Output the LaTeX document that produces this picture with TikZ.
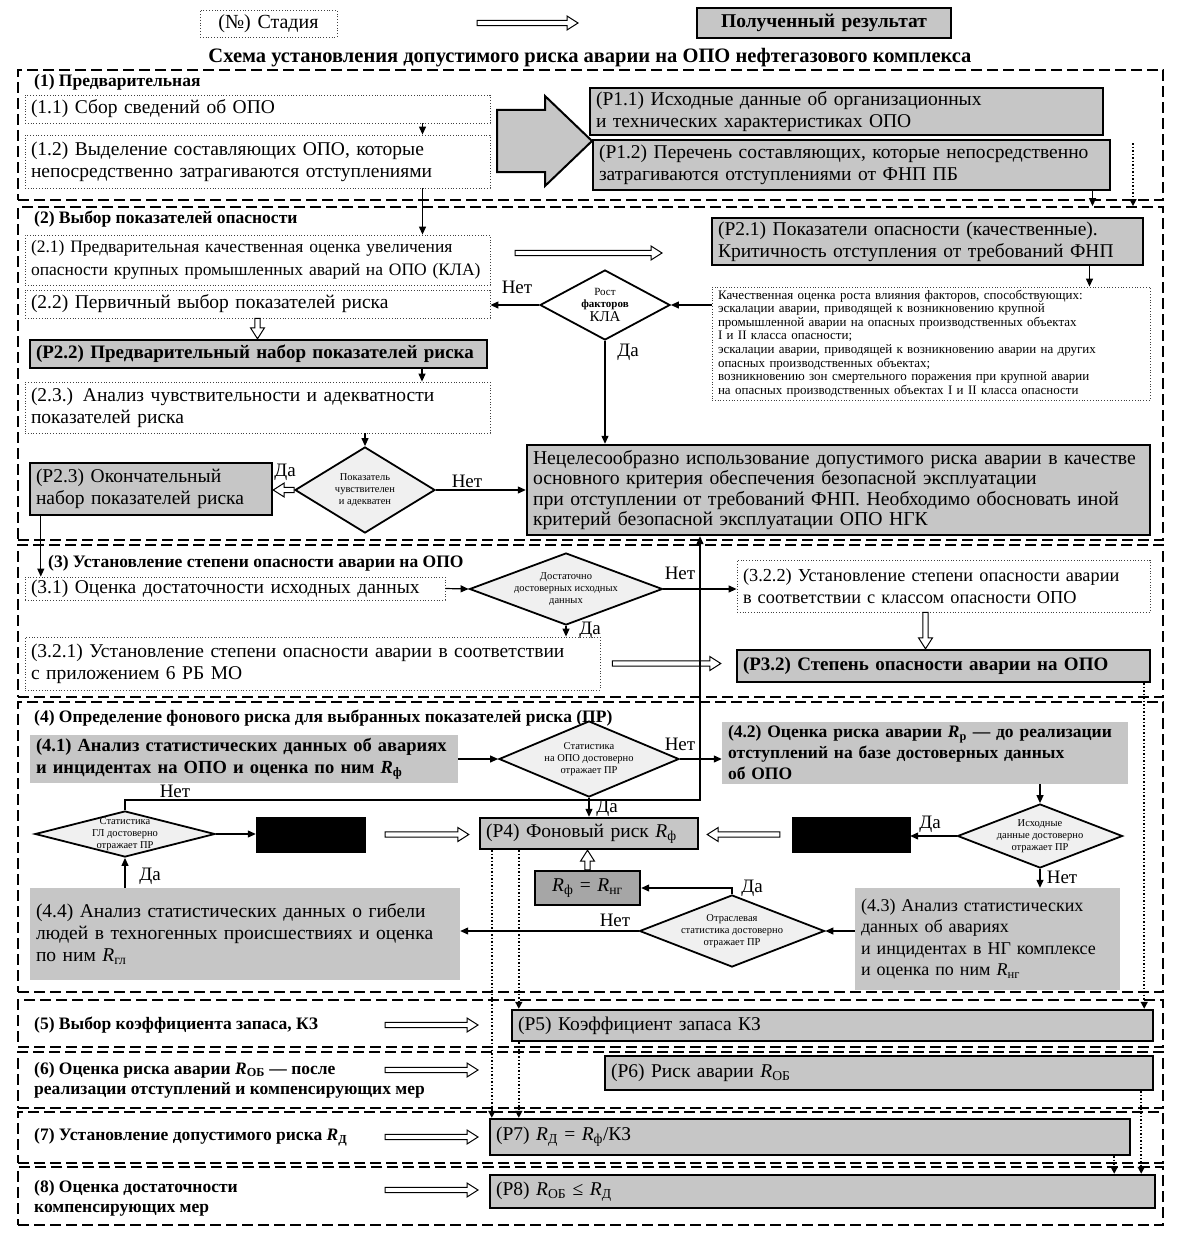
\documentclass[tikz,border=0pt]{standalone}
\usepackage{fontspec}
\setmainfont{Liberation Serif}
\usetikzlibrary{arrows.meta,shapes.geometric,calc}
\newcommand\fM{\fontsize{19.5}{22}\selectfont}
\newcommand\fS{\fontsize{17.5}{23}\selectfont}
\newcommand\fN{\fontsize{19.7}{20.5}\selectfont}
\newcommand\fH{\bfseries\fontsize{17.5}{20}\selectfont}
\newcommand\fT{\fontsize{13}{13.6}\selectfont}
\newcommand\fD{\fontsize{10.5}{12}\selectfont}
\newcommand\fL{\fontsize{19}{20}\selectfont}
\newcommand\fB{\bfseries\fontsize{17.5}{21}\selectfont}
\newcommand\fBB{\bfseries\fontsize{19}{21}\selectfont}
\newcommand\Rs[1]{\textit{R}\textsubscript{#1}}
\tikzset{
 stage/.style={draw, line width=1.8pt, dash pattern=on 11pt off 5pt},
 stepbox/.style={draw=black!75, line width=0.8pt, dotted, align=left, font=\fM},
 res/.style={draw, line width=2.4pt, fill=gray!45, align=left, font=\fM},
 gbox/.style={fill=gray!45, align=left, font=\fM},
 blk/.style={fill=black, draw=black},
 dia/.style={diamond, draw, line width=1.8pt, inner sep=0pt, fill=gray!12},
 dtxt/.style={font=\fD, align=center, inner sep=0pt},
 arr/.style={line width=1.2pt, -{Triangle[length=8pt,width=7pt]}},
 darr/.style={line width=1.5pt, dotted, -{Triangle[length=7pt,width=7pt]}},
 hol/.style={line width=1pt, fill=white, line join=miter},
 lab/.style={font=\fL, inner sep=0pt},
 sthead/.style={font=\fH, anchor=west, inner sep=0pt, align=left},
}
\newcommand\B[7]{%
 \pgfmathsetmacro\myBW{#5-#3}\pgfmathsetmacro\myBH{#6-#4}\pgfmathsetmacro\myTW{#5-#3-12}%
 \pgfmathsetmacro\myBX{(#3+#5)/2}\pgfmathsetmacro\myBY{(#4+#6)/2}%
 \node[#1, minimum width=\myBW pt, minimum height=\myBH pt, text width=\myTW pt, inner xsep=6pt, inner ysep=0pt] (#2) at (\myBX,\myBY) {#7};}
\newcommand\D[6]{\node[dia, minimum width=#4pt, minimum height=#5pt] (#1) at (#2,#3) {};
 \node[dtxt] (#1t) at (#1.center) {#6};}
\newcommand\holR[2]{\draw[hol] let \p1=(#1),\p2=(#2) in (\x1,\y1+2.6pt) -- (\x2-11pt,\y1+2.6pt) -- (\x2-11pt,\y1+7pt) -- (\x2,\y1) -- (\x2-11pt,\y1-7pt) -- (\x2-11pt,\y1-2.6pt) -- (\x1,\y1-2.6pt) -- cycle;}
\newcommand\holL[2]{\draw[hol] let \p1=(#1),\p2=(#2) in (\x1,\y1+2.6pt) -- (\x2+11pt,\y1+2.6pt) -- (\x2+11pt,\y1+7pt) -- (\x2,\y1) -- (\x2+11pt,\y1-7pt) -- (\x2+11pt,\y1-2.6pt) -- (\x1,\y1-2.6pt) -- cycle;}
\newcommand\holD[2]{\draw[hol] let \p1=(#1),\p2=(#2) in (\x1+2.6pt,\y1) -- (\x1+2.6pt,\y2+11pt) -- (\x1+7pt,\y2+11pt) -- (\x1,\y2) -- (\x1-7pt,\y2+11pt) -- (\x1-2.6pt,\y2+11pt) -- (\x1-2.6pt,\y1) -- cycle;}
\newcommand\holU[2]{\draw[hol] let \p1=(#1),\p2=(#2) in (\x1+2.6pt,\y1) -- (\x1+2.6pt,\y2-11pt) -- (\x1+7pt,\y2-11pt) -- (\x1,\y2) -- (\x1-7pt,\y2-11pt) -- (\x1-2.6pt,\y2-11pt) -- (\x1-2.6pt,\y1) -- cycle;}
\begin{document}
\begin{tikzpicture}[x=1pt,y=-1pt]
\fill[white] (0,0) rectangle (1183,1244);
\useasboundingbox (0,0) rectangle (1183,1244);
% stage frames
\B{stage}{st1}{18}{70}{1163}{200}{}
\B{stage}{st2}{18}{207}{1163}{540}{}
\B{stage}{st3}{18}{545}{1163}{697}{}
\B{stage}{st4}{18}{702}{1163}{992}{}
\B{stage}{st5}{18}{1000}{1163}{1047}{}
\B{stage}{st6}{18}{1052}{1163}{1108}{}
\B{stage}{st7}{18}{1112}{1163}{1163}{}
\B{stage}{st8}{18}{1167}{1163}{1225}{}
% legend
\B{stepbox, align=center, font=\fontsize{20}{22}\selectfont}{leg1}{200}{10}{337}{37}{(№) Стадия}
\coordinate (la1) at (477,23); \coordinate (la2) at (578,23);
\holR{la1}{la2}
\B{res, align=center, font=\fM\bfseries, line width=2pt}{leg2}{697}{8}{951}{38}{Полученный результат}
\node[font=\bfseries\fontsize{20.5}{22}\selectfont, inner sep=0pt] (title) at (590,58) {Схема установления допустимого риска аварии на ОПО нефтегазового комплекса};
% stage 1
\node[sthead] (h1) at (34,82) {(1) Предварительная};
\B{stepbox}{s11}{25}{95}{490}{123}{(1.1) Сбор сведений об ОПО}
\B{stepbox}{s12}{25}{135}{490}{188}{(1.2) Выделение составляющих ОПО, которые\\непосредственно затрагиваются отступлениями}
\coordinate (a11) at ($(s11.south)+(165,0)$);
\draw[arr] (a11) -- (a11 |- s12.north);
\draw[line width=2pt, fill=gray!45] (497,110) -- (545,110) -- (545,96) -- (592,141) -- (545,186) -- (545,172) -- (497,172) -- cycle;
\B{res}{p11}{590}{88}{1103}{135}{(Р1.1) Исходные данные об организационных\\и технических характеристиках ОПО}
\B{res}{p12}{593}{140}{1110}{190}{(Р1.2) Перечень составляющих, которые непосредственно\\затрагиваются отступлениями от ФНП ПБ}
\coordinate (a12) at ($(p12.south)+(241,0)$);
\draw[arr] (a12) -- (a12 |- st2.north);
\coordinate (c2a) at (1133,143);
\draw[darr] (c2a) -- (c2a |- st2.north);
\coordinate (a13) at ($(s12.south)+(165,0)$);
% stage 2
\node[sthead] (h2) at (34,219) {(2) Выбор показателей опасности};
\B{stepbox, font=\fS}{s21}{25}{235}{490}{285}{(2.1) Предварительная качественная оценка увеличения\\опасности крупных промышленных аварий на ОПО (КЛА)}
\draw[arr] (a13) -- (a13 |- s21.north);
\coordinate (b21) at (515,253); \coordinate (b22) at (662,253);
\holR{b21}{b22}
\B{res}{p21}{712}{218}{1143}{265}{(Р2.1) Показатели опасности (качественные).\\Критичность отступления от требований ФНП}
\B{stepbox, font=\fT}{sm}{712}{287}{1150}{400}{Качественная оценка роста влияния факторов, способствующих:\\эскалации аварии, приводящей к  возникновению крупной\\промышленной аварии на опасных производственных объектах\\I и II класса опасности;\\эскалации аварии, приводящей к возникновению аварии на других\\опасных производственных объектах;\\возникновению зон смертельного поражения при крупной аварии\\на опасных производственных объектах I и II класса опасности}
\coordinate (a21) at ($(p21.south)+(162,0)$);
\draw[arr] (a21) -- (a21 |- sm.north);
\node[dia, fill=white, minimum width=130pt, minimum height=70pt] (rost) at (605,305) {};
\node[dtxt] (rostt) at (rost.center) {{\fontsize{11}{13}\selectfont Рост}\\{\bfseries\fontsize{11}{13}\selectfont факторов}\\{\fontsize{15}{16}\selectfont КЛА}};
\draw[arr] (sm.west |- rost.east) -- (rost.east);
\B{stepbox}{s22}{25}{290}{490}{318}{(2.2) Первичный выбор показателей риска}
\draw[arr] (rost.west) -- (s22.east |- rost.west);
\node[lab] (n1) at (517,287) {Нет};
\B{res, font=\fBB}{p22}{30}{340}{487}{368}{(Р2.2) Предварительный набор показателей риска}
\holD{s22.south}{p22.north}
\coordinate (a22) at ($(p22.south)+(163.5,0)$);
\B{stepbox}{s23}{25}{382}{490}{433}{(2.3.) Анализ чувствительности и адекватности\\показателей риска}
\draw[arr] (a22) -- (a22 |- s23.north);
\D{pok}{365}{490}{140}{86}{Показатель\\чувствителен\\и адекватен}
\draw[arr] (s23.south -| pok.north) -- (pok.north);
\B{res}{p23}{30}{463}{272}{515}{(Р2.3) Окончательный\\набор показателей риска}
\holL{pok.west}{p23.east}
\node[lab] (y1) at (285,472) {Да};
\B{res, font=\fN}{nec}{527}{445}{1150}{535}{Нецелесообразно использование допустимого риска аварии в качестве\\основного критерия обеспечения безопасной эксплуатации\\при отступлении от требований ФНП. Необходимо обосновать иной\\критерий безопасной эксплуатации ОПО НГК}
\draw[arr] (rost.south) -- (rost.south |- nec.north);
\node[lab] (y2) at (628,352) {Да};
\draw[arr] (pok.east) -- (nec.west |- pok.east);
\node[lab] (n2) at (467,481) {Нет};
% stage 3
\node[sthead] (h3) at (48,563) {(3) Установление степени опасности аварии на ОПО};
\B{stepbox}{s31}{25}{577}{445}{600}{(3.1) Оценка достаточности исходных данных}
\coordinate (a23) at ($(p23.south west)+(12,0)$);
\draw[arr] (a23) -- (a23 |- s31.north);
\D{dost}{566}{589}{193}{72}{Достаточно\\достоверных исходных\\данных}
\draw[arr] (s31.east) -- (dost.west);
\B{stepbox, font=\fontsize{18.3}{22}\selectfont}{s322}{737}{560}{1150}{612}{(3.2.2) Установление степени опасности аварии\\в соответствии с классом опасности ОПО}
\draw[arr] (dost.east) -- (s322.west |- dost.east);
\node[lab] (n3) at (680,573) {Нет};
\B{stepbox}{s321}{25}{637}{600}{690}{(3.2.1) Установление степени опасности аварии в соответствии\\с приложением 6 РБ МО}
\draw[arr] (dost.south) -- (dost.south |- s321.north);
\node[lab] (y3) at (590,630) {Да};
\B{res, font=\fBB}{p32}{737}{650}{1150}{682}{(Р3.2) Степень опасности аварии на ОПО}
\coordinate (b31) at ($(s321.east)+(12,0)$); \coordinate (b32) at ($(p32.west)+(-15,0)$);
\holR{b31}{b32}
\coordinate (b33) at ($(s322.south)+(-18,0)$);
\holD{b33}{b33 |- p32.north}
% stage 4
\node[sthead] (h4) at (34,718) {(4) Определение фонового риска для выбранных показателей риска (ПР)};
\B{gbox, font=\bfseries\fontsize{18.5}{22}\selectfont}{s41}{30}{735}{458}{783}{(4.1) Анализ статистических данных об авариях\\и инцидентах на ОПО и оценка по ним \Rs{ф}}
\D{opo}{589}{759}{180}{76}{Статистика\\на ОПО достоверно\\отражает ПР}
\draw[arr] (s41.east) -- (opo.west);
\B{gbox, font=\fB}{s42}{722}{722}{1128}{784}{(4.2) Оценка риска аварии \Rs{р} — до реализации\\отступлений на базе достоверных данных\\об ОПО}
\draw[arr] (opo.east) -- (s42.west |- opo.east);
\node[lab] (n4) at (680,744) {Нет};
\B{res}{p4}{480}{818}{698}{849}{(Р4) Фоновый риск \Rs{ф}}
\draw[arr] (opo.south) -- (opo.south |- p4.north);
\node[lab] (y4) at (607,808) {Да};
\D{ish}{1040}{836}{165}{64}{Исходные\\данные достоверно\\отражает ПР}
\draw[arr] (s42.south -| ish.north) -- (ish.north);
\B{blk}{blkR}{792}{817}{910}{852}{}
\draw[arr] (ish.west) -- (blkR.east |- ish.west);
\node[lab] (y5) at (930,824) {Да};
\coordinate (b41) at ($(blkR.west)+(-12,0)$); \coordinate (b42) at ($(p4.east)+(8,0)$);
\holL{b41}{b42}
\D{gl}{125}{834}{180}{46}{Статистика\\ГЛ достоверно\\отражает ПР}
\B{blk}{blkL}{256}{817}{365}{852}{}
\draw[arr] (gl.east) -- (blkL.west |- gl.east);
\coordinate (b43) at ($(blkL.east)+(20,0)$); \coordinate (b44) at ($(p4.west)+(-10,0)$);
\holR{b43}{b44}
\coordinate (nk) at (700,800);
\draw[arr] (gl.north) -- (gl.north |- nk) -- (nk) -- (nk |- nec.south);
\node[lab] (n5) at (175,791) {Нет};
\B{gbox}{s44}{30}{888}{460}{980}{(4.4) Анализ статистических данных о гибели\\людей в техногенных происшествиях и оценка\\по ним \Rs{гл}}
\draw[arr] (s44.north -| gl.south) -- (gl.south);
\node[lab] (y6) at (150,876) {Да};
\B{gbox, font=\fontsize{18}{21.5}\selectfont}{s43}{855}{888}{1120}{990}{(4.3) Анализ статистических\\данных об авариях\\и инцидентах в НГ комплексе\\и оценка по ним \Rs{нг}}
\draw[arr] (ish.south) -- (ish.south |- s43.north);
\node[lab] (n6) at (1062,877) {Нет};
\B{res, fill=gray!70, align=center}{rbox}{535}{871}{640}{905}{\Rs{ф} = \Rs{нг}}
\holU{rbox.north}{p4.south}
\D{otr}{732}{931}{185}{72}{Отраслевая\\статистика достоверно\\отражает ПР}
\draw[arr] (otr.north) |- (rbox.east);
\node[lab] (y7) at (752,888) {Да};
\draw[arr] (otr.west) -- (s44.east |- otr.west);
\node[lab] (n7) at (615,920) {Нет};
\draw[arr] (s43.west |- otr.east) -- (otr.east);
% stages 5-8
\node[sthead] (h5) at (34,1025) {(5) Выбор коэффициента запаса, КЗ};
\B{res}{p5}{512}{1010}{1153}{1041}{(Р5) Коэффициент запаса КЗ}
\coordinate (h5a) at (385,1025); \coordinate (h5b) at (478,1025);
\holR{h5a}{h5b}
\node[sthead] (h6) at (34,1080) {(6) Оценка риска аварии \Rs{ОБ} — после\\реализации  отступлений и компенсирующих мер};
\B{res}{p6}{605}{1056}{1153}{1090}{(Р6) Риск аварии \Rs{ОБ}}
\coordinate (h6a) at (385,1070); \coordinate (h6b) at (478,1070);
\holR{h6a}{h6b}
\node[sthead] (h7) at (34,1137) {(7) Установление допустимого риска \Rs{Д}};
\B{res}{p7}{490}{1119}{1130}{1155}{(Р7) \Rs{Д} = \Rs{ф}/КЗ}
\coordinate (h7a) at (385,1137); \coordinate (h7b) at (478,1137);
\holR{h7a}{h7b}
\node[sthead] (h8) at (34,1198) {(8) Оценка достаточности\\компенсирующих мер};
\B{res}{p8}{490}{1175}{1155}{1208}{(Р8) \Rs{ОБ} ≤ \Rs{Д}}
\coordinate (h8a) at (385,1190); \coordinate (h8b) at (478,1190);
\holR{h8a}{h8b}
% dotted result links
\coordinate (d1) at ($(p4.south west)+(13,0)$);
\draw[darr] (d1) -- (d1 |- p7.north);
\coordinate (d2) at ($(p4.south west)+(40,0)$);
\draw[darr] (d2) -- (d2 |- p5.north);
\draw[darr] (d2 |- p5.south) -- (d2 |- p7.north);
\coordinate (d3) at ($(p32.south east)+(-7,0)$);
\draw[darr] (d3) -- (d3 |- p5.north);
\coordinate (d4) at ($(p6.south east)+(-13,0)$);
\draw[darr] (d4) -- (d4 |- p8.north);
\coordinate (d5) at ($(p7.south east)+(-17,0)$);
\draw[darr] (d5) -- (d5 |- p8.north);
\end{tikzpicture}
\end{document}
